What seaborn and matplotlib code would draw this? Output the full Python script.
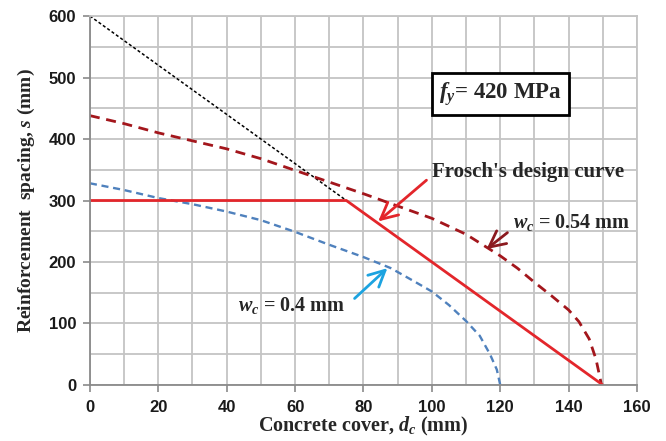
import matplotlib
matplotlib.use("Agg")
import matplotlib.pyplot as plt
import seaborn as sns
from matplotlib.ticker import MultipleLocator

# ---- data ----
frosch_x = [0, 75, 150]
frosch_y = [300, 300, 0]

limit_x = [0, 75]
limit_y = [600, 300]

wc054_x = [0, 10, 20, 30, 40, 50, 60, 70, 80, 90, 100, 110, 120, 125, 130, 135, 140, 143, 146, 148, 149.5]
wc054_y = [438, 425, 410, 397, 384, 368, 349, 330, 311, 291, 271, 245, 210, 190, 167, 145, 122, 103, 75, 42, 3]

wc04_x = [0, 10, 20, 30, 40, 50, 60, 70, 80, 88, 95, 100, 105, 110, 114, 117, 119, 120]
wc04_y = [328, 317, 304, 294, 282, 268, 249, 228, 208, 190, 168, 152, 130, 104, 80, 50, 25, 0]

x_ticks = [0, 20, 40, 60, 80, 100, 120, 140, 160]
y_ticks = [0, 100, 200, 300, 400, 500, 600]

sns.set_style("white")
plt.rcParams['mathtext.fontset'] = 'custom'
plt.rcParams['mathtext.rm'] = 'Liberation Serif:bold'
plt.rcParams['mathtext.it'] = 'Liberation Serif:italic:bold'
plt.rcParams['mathtext.bf'] = 'Liberation Serif:bold'

fig = plt.figure(figsize=(6.66, 4.41), dpi=100)
ax = fig.add_axes([0.135, 0.127, 0.8215, 0.8367])

grid_c = '#c4c4c4'
ax.set_xlim(0, 160)
ax.set_ylim(0, 600)
ax.set_xticks(x_ticks)
ax.set_yticks(y_ticks)
ax.xaxis.set_minor_locator(MultipleLocator(10))
ax.yaxis.set_minor_locator(MultipleLocator(50))
ax.grid(True, which='both', color=grid_c, linewidth=1.3)
ax.set_axisbelow(True)
for s in ['top', 'right']:
    ax.spines[s].set_color(grid_c)
    ax.spines[s].set_linewidth(1.3)
for s in ['left', 'bottom']:
    ax.spines[s].set_color('#8a8a8a')
    ax.spines[s].set_linewidth(1.3)
ax.tick_params(axis='both', which='major', direction='out', length=5, width=1.2,
               color='#8a8a8a', labelsize=12, labelcolor='#1a1a1a', bottom=True, left=True)
ax.tick_params(axis='x', which='major', pad=6)
ax.tick_params(axis='y', which='major', pad=5)
ax.tick_params(axis='both', which='minor', length=0)
for lab in ax.get_xticklabels() + ax.get_yticklabels():
    lab.set_fontfamily('Liberation Sans')
    lab.set_fontweight('bold')

sns.lineplot(x=limit_x, y=limit_y, ax=ax, color='black', linewidth=1.1,
             linestyle=(0, (2, 1.5)))
sns.lineplot(x=wc054_x, y=wc054_y, ax=ax, color='#a3161c', linewidth=2.0,
             linestyle=(0, (3.6, 2.4)))
sns.lineplot(x=wc04_x, y=wc04_y, ax=ax, color='#4f81bd', linewidth=1.7,
             linestyle=(0, (3, 2)))
sns.lineplot(x=frosch_x, y=frosch_y, ax=ax, color='#e3262b', linewidth=2.0)

ax.set_xlabel(r'Concrete cover, $d_c$ (mm)', fontfamily='Liberation Serif',
              fontweight='bold', fontsize=14.5, labelpad=0)
ax.set_ylabel(r'Reinforcement  spacing, $s$ (mm)', fontfamily='Liberation Serif',
              fontweight='bold', fontsize=14, labelpad=8)

serif = dict(fontfamily='Liberation Serif', fontweight='bold')

ax.text(120, 473, r'$f_y$= 420 MPa', ha='center', va='center', fontsize=16.5,
        bbox=dict(boxstyle='square,pad=0.3', facecolor='white', edgecolor='black', linewidth=2),
        **serif)

ax.annotate("Frosch's design curve", xy=(84.3, 266), xytext=(100, 347),
            fontsize=15, va='center', ha='left',
            arrowprops=dict(arrowstyle='->,head_length=0.8,head_width=0.4',
                            color='#e3262b', lw=2, shrinkA=2, shrinkB=0,
                            relpos=(0, 0.3)),
            **serif)

ax.annotate(r'$w_c$ = 0.54 mm', xy=(116, 221), xytext=(123.7, 265),
            fontsize=14.5, va='center', ha='left',
            arrowprops=dict(arrowstyle='->,head_length=0.8,head_width=0.4',
                            color='#8b1a1f', lw=2, shrinkA=2, shrinkB=0,
                            relpos=(0, 0.2)),
            **serif)

ax.annotate(r'$w_c$ = 0.4 mm', xy=(87, 190), xytext=(43.3, 130),
            fontsize=14.5, va='center', ha='left',
            arrowprops=dict(arrowstyle='->,head_length=0.8,head_width=0.4',
                            color='#1ca3e0', lw=2, shrinkA=6, shrinkB=0,
                            relpos=(1, 0.4)),
            **serif)

fig.savefig('out.png', dpi=100)
